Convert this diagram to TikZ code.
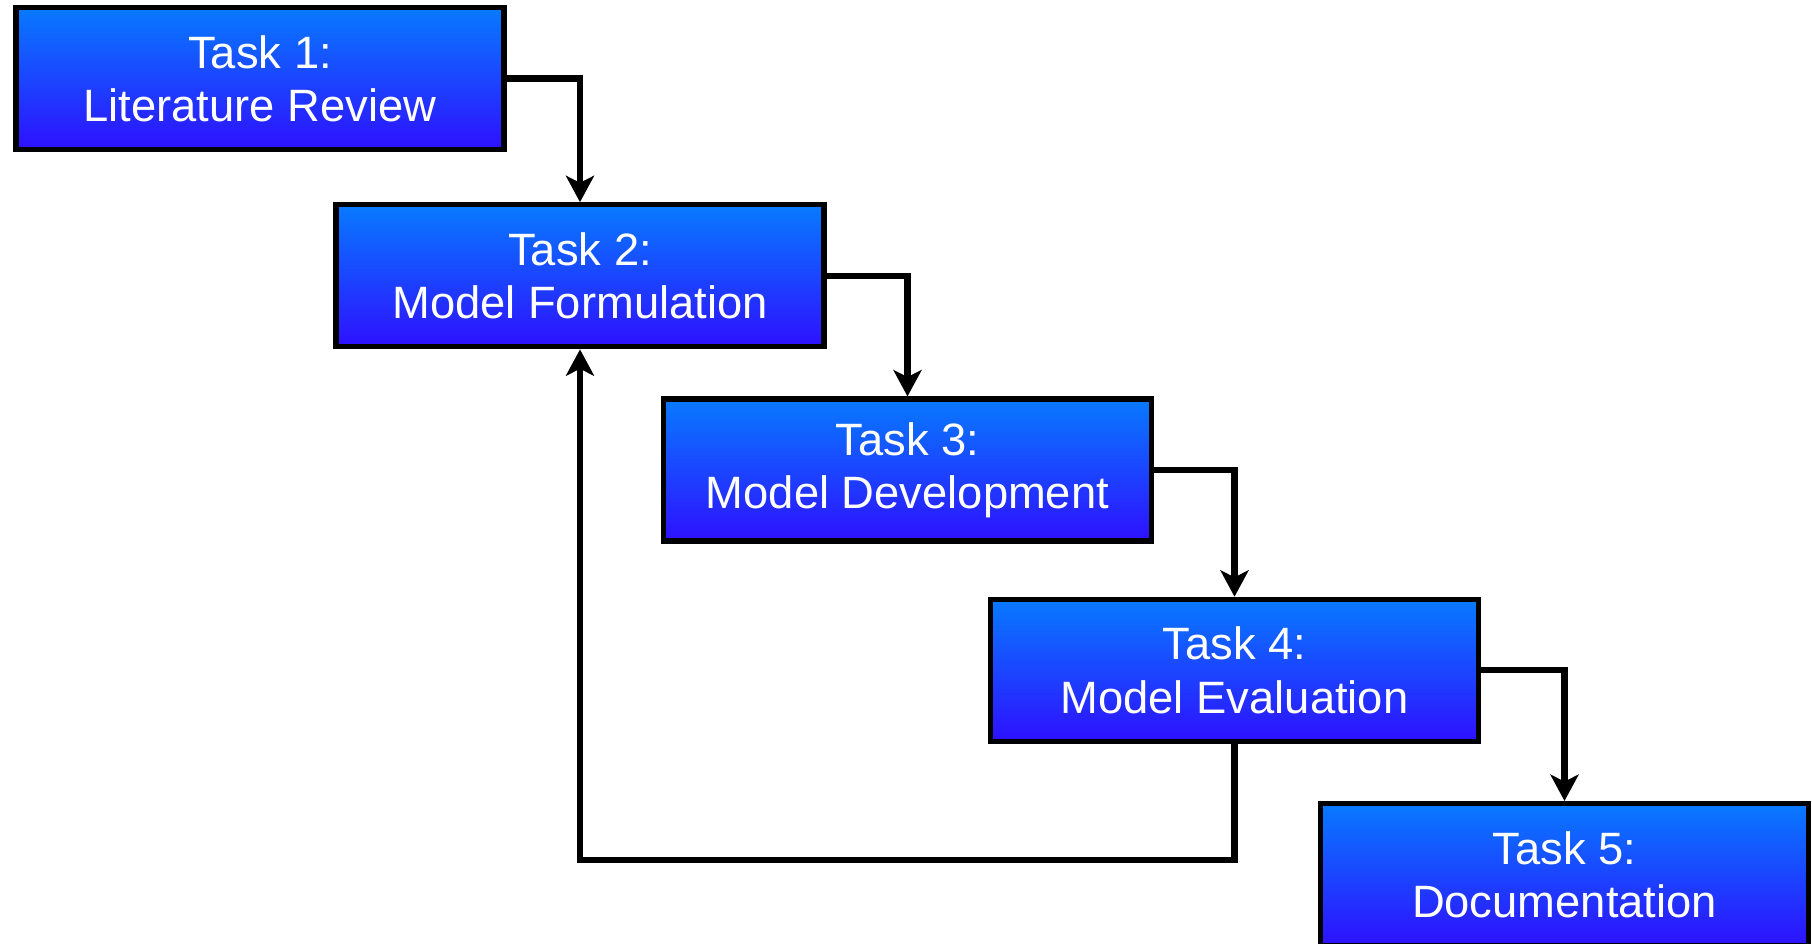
\documentclass[tikz,border=0pt]{standalone}
\usepackage{fontspec}
\setmainfont{Liberation Sans}
\usetikzlibrary{arrows.meta, positioning}
\definecolor{taskTop}{RGB}{8,122,255}
\definecolor{taskBottom}{RGB}{46,16,255}

\begin{document}
\begin{tikzpicture}[
    node distance=0.52cm,
    task/.style={rectangle, draw, line width=1.5pt, top color=taskTop, bottom color=taskBottom, minimum width=4.88cm, minimum height=1.42cm, align=center, text=white, font=\fontsize{12.9}{15.1}\selectfont},
    arrow/.style={-{Stealth[length=7.5pt, width=8pt, inset=2pt]}, line width=1.8pt}
]
\useasboundingbox (0,0) rectangle (18.12,-9.43);

\node[task] at (2.60,-0.785) (review) {Task 1:\\Literature Review};
\node[task, below=0.50cm of review, xshift=3.2cm] (formulation) {Task 2:\\Model Formulation};
\node[task, below=0.47cm of formulation, xshift=3.275cm] (development) {Task 3:\\Model Development};
\node[task, below=0.53cm of development, xshift=3.27cm] (evaluation) {Task 4:\\Model Evaluation};
\node[task, below=0.57cm of evaluation, xshift=3.30cm] (documentation) {Task 5:\\Documentation};
\coordinate[below=1.16cm of evaluation] (turn);

\draw[arrow] (review.east) -| (formulation.north);
\draw[arrow] (formulation.east) -| (development.north);
\draw[arrow] (development.east) -| (evaluation.north);
\draw[arrow] (evaluation.east) -| (documentation.north);
\draw[arrow] (evaluation.south) -- (turn) -| (formulation.south);

\end{tikzpicture}
\end{document}
